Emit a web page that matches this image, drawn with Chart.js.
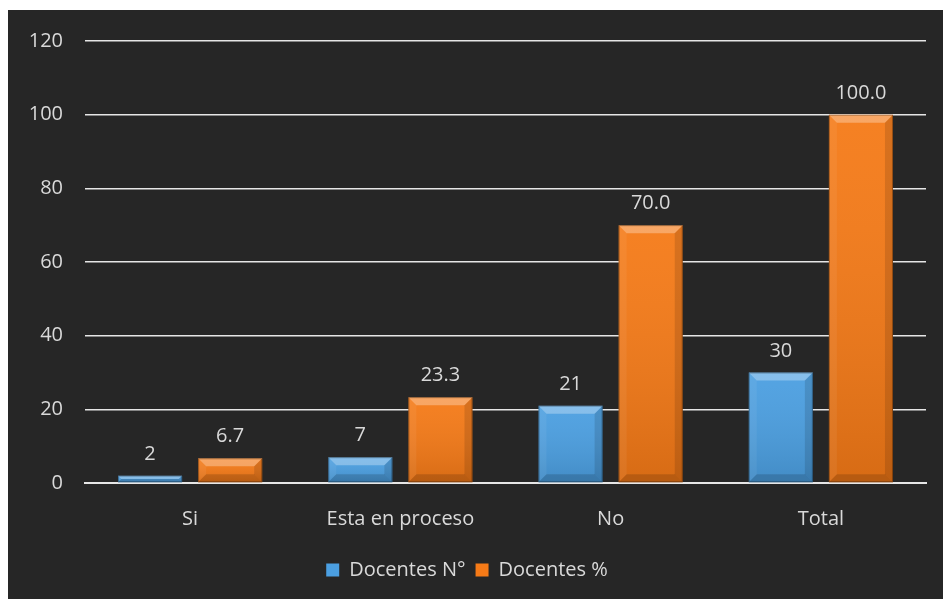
<!DOCTYPE html>
<html>
<head>
<meta charset="utf-8">
<script src="https://cdn.jsdelivr.net/npm/chart.js@4"></script>
<style>
  body { margin: 0; background: #ffffff; }
  #wrap { position: absolute; left: 8px; top: 10px; width: 935px; height: 589px; background: #262626; }
</style>
</head>
<body>
<div id="wrap"><canvas id="grafico" width="935" height="589"></canvas></div>
<script>
const categorias = ['Si', 'Esta en proceso', 'No', 'Total'];
const docentesN = [2, 7, 21, 30];
const docentesPct = [6.7, 23.3, 70.0, 100.0];
const yTicks = [0, 20, 40, 60, 80, 100, 120];

const textColor = '#d9d9d9';
const fontFam = "'Open Sans', sans-serif";

// bevel look on top of each bar
const bevel = {
  id: 'bevel',
  afterDatasetsDraw(chart) {
    const ctx = chart.ctx;
    chart.data.datasets.forEach(function (ds, i) {
      chart.getDatasetMeta(i).data.forEach(function (bar) {
        let l = bar.x - bar.width / 2, r = bar.x + bar.width / 2;
        let t = bar.y, b = bar.base;
        let s = Math.min(8, (b - t) / 2);
        ctx.save();
        let g = ctx.createLinearGradient(0, t, 0, b);
        g.addColorStop(0, 'rgba(255,255,255,0.05)');
        g.addColorStop(1, 'rgba(0,0,0,0.12)');
        ctx.fillStyle = g;
        ctx.fillRect(l, t, r - l, b - t);
        // top
        ctx.fillStyle = 'rgba(255,255,255,0.3)';
        ctx.beginPath();
        ctx.moveTo(l, t); ctx.lineTo(r, t); ctx.lineTo(r - s, t + s); ctx.lineTo(l + s, t + s);
        ctx.closePath(); ctx.fill();
        // left
        ctx.fillStyle = 'rgba(255,255,255,0.06)';
        ctx.beginPath();
        ctx.moveTo(l, t); ctx.lineTo(l + s, t + s); ctx.lineTo(l + s, b - s); ctx.lineTo(l, b);
        ctx.closePath(); ctx.fill();
        // right
        ctx.fillStyle = 'rgba(0,0,0,0.12)';
        ctx.beginPath();
        ctx.moveTo(r, t); ctx.lineTo(r - s, t + s); ctx.lineTo(r - s, b - s); ctx.lineTo(r, b);
        ctx.closePath(); ctx.fill();
        // bottom
        ctx.fillStyle = 'rgba(0,0,0,0.15)';
        ctx.beginPath();
        ctx.moveTo(l, b); ctx.lineTo(l + s, b - s); ctx.lineTo(r - s, b - s); ctx.lineTo(r, b);
        ctx.closePath(); ctx.fill();
        ctx.strokeStyle = 'rgba(0,0,0,0.3)';
        ctx.lineWidth = 1;
        ctx.strokeRect(l + 0.5, t + 0.5, r - l - 1, b - t - 1);
        ctx.restore();
      });
    });
  }
};

// value labels above bars
const etiquetas = {
  id: 'etiquetas',
  afterDatasetsDraw(chart) {
    const ctx = chart.ctx;
    ctx.save();
    ctx.font = '20px ' + fontFam;
    ctx.fillStyle = textColor;
    ctx.textAlign = 'center';
    ctx.textBaseline = 'alphabetic';
    chart.data.datasets.forEach(function (ds, i) {
      chart.getDatasetMeta(i).data.forEach(function (bar, j) {
        let v = ds.data[j];
        let txt = i === 1 ? v.toFixed(1) : String(v);
        ctx.fillText(txt, bar.x, bar.y - 16);
      });
    });
    ctx.restore();
  }
};

new Chart("grafico", {
  type: "bar",
  data: {
    labels: categorias,
    datasets: [
      {
        label: 'Docentes N°',
        data: docentesN,
        backgroundColor: '#4b9fe1',
        barPercentage: 0.8,
        categoryPercentage: 0.762
      },
      {
        label: 'Docentes %',
        data: docentesPct,
        backgroundColor: '#f57a17',
        barPercentage: 0.8,
        categoryPercentage: 0.762
      }
    ]
  },
  options: {
    responsive: false,
    animation: false,
    layout: { padding: { top: 31, right: 17, left: 0, bottom: 9 } },
    plugins: {
      legend: {
        position: 'bottom',
        labels: {
          color: textColor,
          boxWidth: 13,
          boxHeight: 13,
          padding: 10,
          font: { size: 20, family: fontFam }
        }
      },
      tooltip: { enabled: false }
    },
    scales: {
      y: {
        min: 0,
        max: 120,
        afterBuildTicks: function (axis) { axis.ticks = yTicks.map(function (v) { return { value: v }; }); },
        afterFit: function (axis) { axis.width = 77; axis.paddingTop = 0; axis.paddingBottom = 0; },
        border: { display: false },
        grid: { color: '#e6e6e6', lineWidth: 1.5, drawTicks: false },
        ticks: { color: textColor, padding: 22, font: { size: 20, family: fontFam } }
      },
      x: {
        afterFit: function (axis) { axis.height = 67; },
        border: { display: true, color: '#e6e6e6', width: 2 },
        grid: { display: false },
        ticks: { color: textColor, padding: 16, font: { size: 20, family: fontFam } }
      }
    }
  },
  plugins: [bevel, etiquetas]
});
</script>
</body>
</html>
